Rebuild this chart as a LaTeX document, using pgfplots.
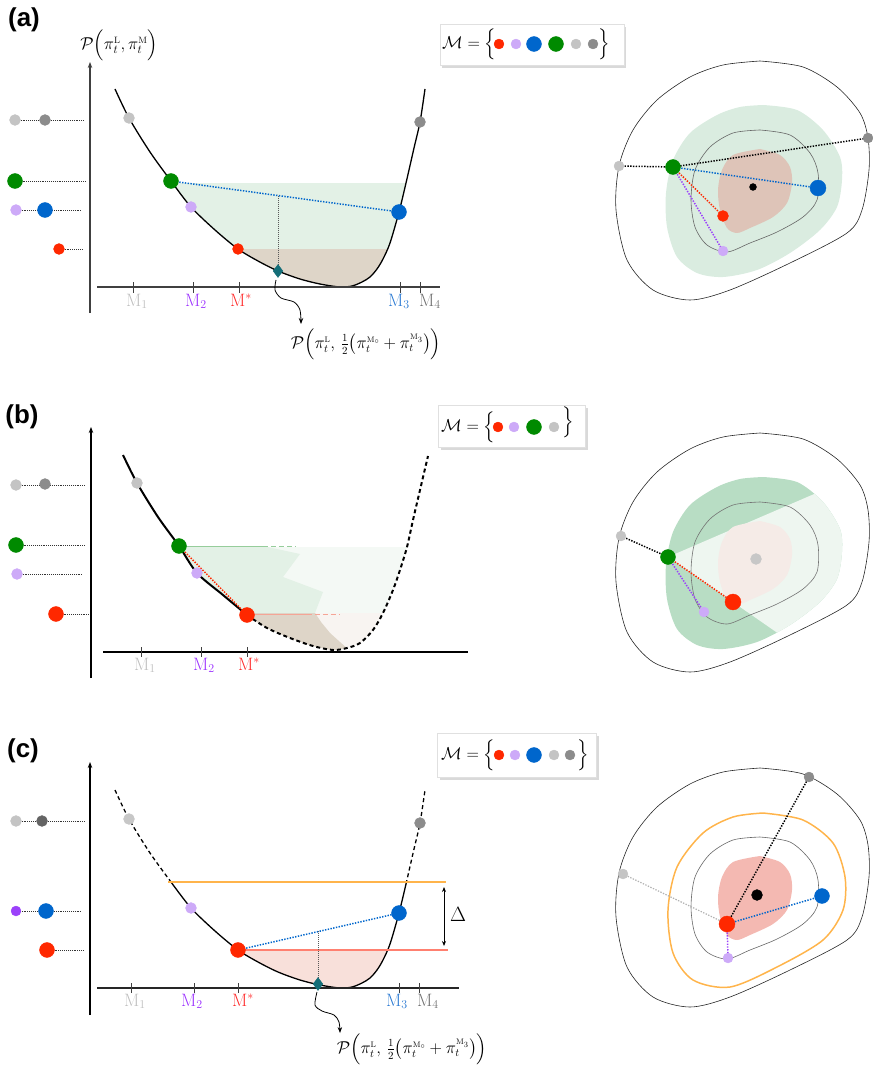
\documentclass[border=0pt]{standalone}
\usepackage{fontspec}
\usepackage{exscale}
\newfontfamily\panelfont{Liberation Sans}
\usepackage{pgfplots}
\usepackage{pgfplotstable}
\pgfplotsset{compat=1.18}
\usetikzlibrary{arrows.meta,shadows}

% marker colours
\definecolor{cRed}{RGB}{255,40,0}
\definecolor{cLav}{RGB}{205,170,248}
\definecolor{cBlue}{RGB}{0,102,204}
\definecolor{cGreen}{RGB}{0,138,0}
\definecolor{cGreyL}{RGB}{196,196,196}
\definecolor{cGreyD}{RGB}{140,140,140}
\definecolor{cGreyDD}{RGB}{100,100,100}
\definecolor{cPurple}{RGB}{155,65,250}
\definecolor{cTeal}{RGB}{20,110,120}
% tick label colours
\definecolor{tM1}{RGB}{190,190,190}
\definecolor{tM2}{RGB}{155,48,255}
\definecolor{tMs}{RGB}{255,40,40}
\definecolor{tM3}{RGB}{40,120,210}
\definecolor{tM4}{RGB}{110,110,110}
% area colours
\definecolor{fGreen}{RGB}{227,241,230}
\definecolor{fBrown}{RGB}{222,213,200}
\definecolor{fGreenLt}{RGB}{244,249,245}
\definecolor{fBrownLt}{RGB}{248,244,241}
\definecolor{fPink}{RGB}{248,224,218}
\definecolor{fLineG}{RGB}{150,205,155}
\definecolor{fLineR}{RGB}{245,165,150}
\definecolor{rGreen}{RGB}{218,236,224}
\definecolor{rBrown}{RGB}{222,196,184}
\definecolor{rGreenMid}{RGB}{184,221,196}
\definecolor{rWedge}{RGB}{238,246,240}
\definecolor{rPinkLt}{RGB}{245,235,231}
\definecolor{rPink}{RGB}{244,185,178}
\definecolor{cOrange}{RGB}{255,180,75}
\definecolor{cSalmon}{RGB}{255,128,112}

\pgfplotsset{
  mdot/.style 2 args={only marks, mark=*, mark size=#2, mark options={draw=#1, fill=#1}},
  mguide/.style={draw=black!80, line width=0.6pt, dash pattern=on 1pt off 0.9pt},
  mlink/.style={draw=#1, line width=1.5pt, dash pattern=on 1.4pt off 1.4pt},
  cline/.style={draw=#1, line width=0.6pt, smooth},
  mtick/.style={draw=black!75, line width=1pt},
  maxis/.style={draw=black!75, line width=1.2pt},
  myaxis/.style={draw=black!75, line width=1.2pt, -{Stealth[length=6bp,width=4.5bp]}},
  marrow/.style={draw=black, line width=0.8pt, smooth, -{Stealth[length=6bp,width=4.5bp]}},
}

% loss curve of panel (a)
\pgfplotstableread{
x y
115 89
129 118
150 152
171 181
191 207
215 230
238 249
258 261
278 271
300 279
320 284
340 287
352 286
362 282
370 277
377 269
383 259
390 243
399 212
406 183
414 148
420 122
425 89
}\curveA

% level sets in parameter space (panel (a) position)
\pgfplotstableread{
x y
760 61
803 67
837 87
860 113
868 138
869 170
862 210
847 233
790 263
730 290
690 300
653 290
627 260
616 210
619 166
633 130
657 100
690 77
723 65
760 61
}\outerR

\pgfplotstableread{
x y
760 130
790 135
810 153
818 173
817 200
803 217
777 232
750 243
727 252
707 245
695 227
691 200
695 170
710 147
733 133
760 130
}\innerR

\pgfplotstableread{
x y
763 105
797 110
823 130
840 157
842 180
837 207
820 230
790 253
757 270
723 277
697 273
677 257
667 227
666 193
673 160
690 133
717 115
740 107
763 105
}\greenR

\pgfplotstableread{
x y
760 149
780 155
790 167
792 183
787 203
773 217
750 228
737 233
727 228
720 210
718 190
722 170
733 155
760 149
}\blobR

\newcommand\lab{\fontsize{18}{21}\selectfont}
\newcommand\ylab{\fontsize{18.5}{22}\selectfont}
\newcommand\setlab{\fontsize{17.5}{21}\selectfont}
\newcommand\smalllab{\fontsize{16}{19}\selectfont}

\begin{document}
\begin{tikzpicture}
\begin{axis}[scale only axis, width=873bp, height=1067bp,
  xmin=0, xmax=873, ymin=0, ymax=1067, y dir=reverse,
  hide axis, clip=false]

%% ================= panel (a), loss curve =================
\begin{scope}
  \clip plot[smooth] coordinates {(115,89) (129,118) (150,152) (171,181) (191,207) (215,230) (238,249) (258,261) (278,271) (300,279) (320,284) (340,287) (352,286) (362,282) (370,277) (377,269) (383,259) (390,243) (399,212) (406,183) (414,148) (420,122) (425,89)} -- cycle;
  \addplot[fill=fGreen, draw=none] coordinates {(100,183) (440,183) (440,249) (100,249)};
  \addplot[fill=fBrown, draw=none] coordinates {(100,249) (440,249) (440,300) (100,300)};
\end{scope}
\addplot[black, line width=1.3pt, smooth] table[x=x, y=y] {\curveA};
\addplot[mlink=cBlue] coordinates {(171,181) (399,212)};
\addplot[draw=black!65, line width=0.8pt, dash pattern=on 1pt off 1pt] coordinates {(278,196) (278,271)};
\addplot[maxis] coordinates {(97,287) (440,287)};
\addplot[myaxis] coordinates {(90,313) (90,62)};
\pgfplotsinvokeforeach{133,193,239,400,420}{\addplot[mtick] coordinates {(#1,282) (#1,293)};}
\node[anchor=base, text=tM1, font=\lab] at (137,306) {$\mathrm{M}_1$};
\node[anchor=base, text=tM2, font=\lab] at (196,306) {$\mathrm{M}_2$};
\node[anchor=base, text=tMs, font=\lab] at (241,306) {$\mathrm{M}^*$};
\node[anchor=base, text=tM3, font=\lab] at (399,306) {$\mathrm{M}_3$};
\node[anchor=base, text=tM4, font=\lab] at (430,306) {$\mathrm{M}_4$};
\node[font=\ylab] at (119,45) {$\mathcal{P}\Big(\pi_t^{\scriptscriptstyle\mathrm{L}},\pi_t^{\scriptscriptstyle\mathrm{M}}\Big)$};
\node[font=\panelfont\bfseries\fontsize{26}{30}\selectfont] at (24,20) {(a)};
% projected levels
\addplot[mguide] coordinates {(15,120) (85,120)};
\addplot[mguide] coordinates {(15,181) (86,181)};
\addplot[mguide] coordinates {(16,210) (82,210)};
\addplot[mguide] coordinates {(59,249) (83,249)};
\addplot[mdot={cGreyL}{5.5}] coordinates {(15,120) (129,118)};
\addplot[mdot={cGreyD}{5.5}] coordinates {(45,120) (420,122)};
\addplot[mdot={cGreen}{7.5}] coordinates {(15,181) (171,181)};
\addplot[mdot={cLav}{5.5}] coordinates {(16,210) (191,207)};
\addplot[mdot={cBlue}{7.5}] coordinates {(45,210) (399,212)};
\addplot[mdot={cRed}{5.5}] coordinates {(59,249) (238,249)};
\addplot[only marks, mark=diamond*, mark size=6.5, mark options={draw=cTeal, fill=cTeal}] coordinates {(278,271)};
\addplot[marrow] coordinates {(276,280) (275,290) (281,298) (294,302) (300,310) (301,324)};
\node[font=\smalllab] at (366,344) {$\mathcal{P}\Big(\pi_t^{\scriptscriptstyle\mathrm{L}},\,{\textstyle\frac{1}{2}}\big(\pi_t^{\scriptscriptstyle\mathrm{M}_\circ}+\pi_t^{\scriptscriptstyle\mathrm{M}_3}\big)\Big)$};

% set of models (a)
\node[draw=black!12, fill=white, drop shadow={opacity=0.3, shadow xshift=2bp, shadow yshift=-2.5bp}, minimum width=184bp, minimum height=41bp, inner sep=0pt] at (532,45) {};
\node[anchor=west, font=\setlab, inner sep=0pt] at (442,44) {$\mathcal{M}=\Big\{$};
\node[font=\setlab, inner sep=0pt] at (604,44) {$\Big\}$};
\addplot[mdot={cRed}{5}] coordinates {(499,44)};
\addplot[mdot={cLav}{5}] coordinates {(516,44)};
\addplot[mdot={cBlue}{7.5}] coordinates {(534,44)};
\addplot[mdot={cGreen}{7.5}] coordinates {(556,44)};
\addplot[mdot={cGreyL}{5}] coordinates {(576,44)};
\addplot[mdot={cGreyD}{5}] coordinates {(593,44)};

%% ================= panel (a), parameter space =================
\addplot[fill=rGreen, draw=none, smooth] table[x=x, y=y] {\greenR};
\addplot[fill=rBrown, draw=none, smooth] table[x=x, y=y] {\blobR};
\addplot[cline=black!85] table[x=x, y=y] {\outerR};
\addplot[cline=black!60] table[x=x, y=y] {\innerR};
\addplot[mlink=black] coordinates {(619,166) (673,167) (868,138)};
\addplot[mlink=cBlue] coordinates {(673,167) (818,188)};
\addplot[mlink=cRed] coordinates {(673,167) (723,216)};
\addplot[mlink=cPurple] coordinates {(673,167) (723,251)};
\addplot[mdot={black}{3.5}] coordinates {(753,187)};
\addplot[mdot={cGreyL}{5}] coordinates {(619,166)};
\addplot[mdot={cGreyD}{5}] coordinates {(868,138)};
\addplot[mdot={cGreen}{7.5}] coordinates {(673,167)};
\addplot[mdot={cBlue}{8}] coordinates {(818,188)};
\addplot[mdot={cRed}{5.5}] coordinates {(723,216)};
\addplot[mdot={cLav}{5}] coordinates {(723,251)};

%% ================= panel (b), loss curve =================
\begin{scope}
  \clip plot[smooth] coordinates {(123,455) (137,483) (158,517) (179,546) (197,573) (223,595) (247,615) (267,628) (290,638) (313,646) (333,650) (347,648) (360,643) (373,630) (383,613) (393,590) (400,570) (407,547) (413,520) (420,490) (428,456)} -- cycle;
  \addplot[fill=fGreenLt, draw=none] coordinates {(100,547) (440,547) (440,613) (100,613)};
  \addplot[fill=fBrownLt, draw=none] coordinates {(100,613) (440,613) (440,670) (100,670)};
  \addplot[fill=fGreen, draw=none] coordinates {(100,546) (263,546) (300,554) (283,577) (323,592) (315,613) (100,613)};
  \addplot[fill=fBrown, draw=none] coordinates {(100,613) (315,613) (321,622) (330,633) (340,642) (349,650) (349,670) (100,670)};
\end{scope}
\addplot[draw=fLineG, line width=1pt] coordinates {(179,546) (263,546)};
\addplot[draw=fLineG, line width=1pt, dash pattern=on 5pt off 3pt] coordinates {(263,546) (296,546)};
\addplot[draw=fLineR, line width=1pt] coordinates {(247,614) (307,614)};
\addplot[draw=fLineR, line width=1pt, dash pattern=on 5pt off 3pt] coordinates {(307,614) (340,614)};
\addplot[black, line width=2pt, smooth] coordinates {(123,455) (137,483) (158,517) (179,546) (197,573) (223,595) (247,615)};
\addplot[black, line width=2pt, smooth, dash pattern=on 4pt off 3pt] coordinates {(247,615) (267,628) (290,638) (313,646) (333,650) (347,648) (360,643) (373,630) (383,613) (393,590) (400,570) (407,547) (413,520) (420,490) (428,456)};
\addplot[mlink=cRed] coordinates {(179,546) (247,615)};
\addplot[maxis, draw=black] coordinates {(103,652) (468,652)};
\addplot[myaxis, draw=black] coordinates {(91,678) (91,427)};
\pgfplotsinvokeforeach{141,201,247}{\addplot[mtick] coordinates {(#1,647) (#1,657)};}
\node[anchor=base, text=tM1, font=\lab] at (145,670) {$\mathrm{M}_1$};
\node[anchor=base, text=tM2, font=\lab] at (204,670) {$\mathrm{M}_2$};
\node[anchor=base, text=tMs, font=\lab] at (249,670) {$\mathrm{M}^*$};
\node[font=\panelfont\bfseries\fontsize{26}{30}\selectfont] at (22,417) {(b)};
\addplot[mguide] coordinates {(16,485) (85,485)};
\addplot[mguide] coordinates {(16,545) (86,545)};
\addplot[mguide] coordinates {(17,574) (83,574)};
\addplot[mguide] coordinates {(56,614) (90,614)};
\addplot[mdot={cGreyL}{5.5}] coordinates {(16,485) (137,483)};
\addplot[mdot={cGreyD}{5.5}] coordinates {(45,484)};
\addplot[mdot={cGreen}{7.5}] coordinates {(16,545) (179,546)};
\addplot[mdot={cLav}{5.5}] coordinates {(17,574) (197,573)};
\addplot[mdot={cRed}{7.5}] coordinates {(56,614) (247,615)};

% set of models (b)
\node[draw=black!12, fill=white, drop shadow={opacity=0.3, shadow xshift=2bp, shadow yshift=-2.5bp}, minimum width=147bp, minimum height=42bp, inner sep=0pt] at (512,426) {};
\node[anchor=west, font=\setlab, inner sep=0pt] at (441,427) {$\mathcal{M}=\Big\{$};
\node[font=\setlab, inner sep=0pt] at (568,422) {$\Big\}$};
\addplot[mdot={cRed}{5}] coordinates {(498,427)};
\addplot[mdot={cLav}{5}] coordinates {(514,427)};
\addplot[mdot={cGreen}{7.5}] coordinates {(534,427)};
\addplot[mdot={cGreyL}{5}] coordinates {(554,427)};

%% ================= panel (b), parameter space =================
\addplot[fill=rGreenMid, draw=none, smooth] table[x=x, y expr=\thisrow{y}+372] {\greenR};
\begin{scope}
  \clip plot[smooth] coordinates {(763,477) (797,482) (823,502) (840,529) (842,552) (837,579) (820,602) (790,625) (757,642) (723,649) (697,645) (677,629) (667,599) (666,565) (673,532) (690,505) (717,487) (740,479) (763,477)};
  \addplot[fill=rWedge, draw=none] coordinates {(668,557) (900,457) (900,720) (890,711)};
\end{scope}
\addplot[fill=rPinkLt, draw=none, smooth] table[x=x, y expr=\thisrow{y}+372] {\blobR};
\addplot[cline=black!85] table[x=x, y expr=\thisrow{y}+372] {\outerR};
\addplot[cline=black!55] table[x=x, y expr=\thisrow{y}+372] {\innerR};
\addplot[mlink=black] coordinates {(621,536) (668,557)};
\addplot[mlink=cRed] coordinates {(668,557) (733,602)};
\addplot[mlink=cPurple] coordinates {(668,557) (704,612)};
\addplot[mdot={black!22}{5.5}] coordinates {(756,559)};
\addplot[mdot={cGreyL}{5}] coordinates {(621,536)};
\addplot[mdot={cGreen}{7.5}] coordinates {(668,557)};
\addplot[mdot={cLav}{5}] coordinates {(704,612)};
\addplot[mdot={cRed}{8}] coordinates {(733,602)};

%% ================= panel (c), loss curve =================
\begin{scope}
  \clip plot[smooth] coordinates {(115,790) (129,819) (150,853) (171,882) (191,908) (215,931) (238,950) (258,962) (278,972) (300,980) (320,985) (340,988) (352,987) (362,983) (370,978) (377,970) (383,960) (390,944) (399,913) (406,884) (414,849) (420,823) (425,790)} -- cycle;
  \addplot[fill=fPink, draw=none] coordinates {(100,950) (440,950) (440,1000) (100,1000)};
\end{scope}
\addplot[black, line width=1.3pt, smooth, dash pattern=on 4pt off 3pt] coordinates {(115,790) (129,819) (150,853) (171,882)};
\addplot[black, line width=1.3pt, smooth] coordinates {(171,882) (191,908) (215,931) (238,950) (258,962) (278,972) (300,980) (320,985) (340,988) (352,987) (362,983) (370,978) (377,970) (383,960) (390,944) (399,913) (406,884)};
\addplot[black, line width=1.3pt, smooth, dash pattern=on 4pt off 3pt] coordinates {(406,884) (414,849) (420,823) (425,790)};
\addplot[draw=cOrange, line width=1.5pt] coordinates {(168,882) (446,882)};
\addplot[draw=cSalmon, line width=1.5pt] coordinates {(240,950) (448,950)};
\addplot[draw=black, line width=0.8pt, {Stealth[length=5bp,width=4bp]}-{Stealth[length=5bp,width=4bp]}] coordinates {(444,887) (444,946)};
\node[font=\fontsize{22}{24}\selectfont] at (458,914) {$\Delta$};
\addplot[mlink=cBlue] coordinates {(238,950) (399,913)};
\addplot[draw=black!65, line width=0.8pt, dash pattern=on 1pt off 1pt] coordinates {(318,931) (318,984)};
\addplot[maxis, draw=black!85] coordinates {(97,988) (459,988)};
\addplot[myaxis, draw=black] coordinates {(90,1015) (90,762)};
\pgfplotsinvokeforeach{131,194,238,399,419}{\addplot[mtick] coordinates {(#1,983) (#1,993)};}
\node[anchor=base, text=tM1, font=\lab] at (135,1006) {$\mathrm{M}_1$};
\node[anchor=base, text=tM2, font=\lab] at (192,1006) {$\mathrm{M}_2$};
\node[anchor=base, text=tMs, font=\lab] at (243,1006) {$\mathrm{M}^*$};
\node[anchor=base, text=tM3, font=\lab] at (397,1006) {$\mathrm{M}_3$};
\node[anchor=base, text=tM4, font=\lab] at (428,1006) {$\mathrm{M}_4$};
\node[font=\panelfont\bfseries\fontsize{26}{30}\selectfont] at (23,751) {(c)};
\addplot[mguide] coordinates {(16,821) (85,821)};
\addplot[mguide] coordinates {(16,911) (82,911)};
\addplot[mguide] coordinates {(47,950) (83,950)};
\addplot[mdot={cGreyL}{5.5}] coordinates {(16,821)};
\addplot[mdot={black!22}{5.5}] coordinates {(129,819)};
\addplot[mdot={cGreyDD}{5.5}] coordinates {(42,821)};
\addplot[mdot={cGreyD}{5.5}] coordinates {(420,823)};
\addplot[mdot={cPurple}{5}] coordinates {(16,911)};
\addplot[mdot={cLav}{5.5}] coordinates {(191,908)};
\addplot[mdot={cBlue}{7.5}] coordinates {(46,911) (399,913)};
\addplot[mdot={cRed}{7.5}] coordinates {(47,950) (238,950)};
\addplot[only marks, mark=diamond*, mark size=6.5, mark options={draw=cTeal, fill=cTeal}] coordinates {(318,984)};
\addplot[marrow] coordinates {(317,992) (315,1005) (322,1011) (334,1015) (339,1022) (340,1033)};
\node[font=\smalllab] at (412,1049) {$\mathcal{P}\Big(\pi_t^{\scriptscriptstyle\mathrm{L}},\,{\textstyle\frac{1}{2}}\big(\pi_t^{\scriptscriptstyle\mathrm{M}_\circ}+\pi_t^{\scriptscriptstyle\mathrm{M}_3}\big)\Big)$};

% set of models (c)
\node[draw=black!12, fill=white, drop shadow={opacity=0.3, shadow xshift=2bp, shadow yshift=-2.5bp}, minimum width=159bp, minimum height=44bp, inner sep=0pt] at (517,755) {};
\node[anchor=west, font=\setlab, inner sep=0pt] at (441,755) {$\mathcal{M}=\Big\{$};
\node[font=\setlab, inner sep=0pt] at (583,755) {$\Big\}$};
\addplot[mdot={cRed}{5}] coordinates {(499,755)};
\addplot[mdot={cLav}{5}] coordinates {(515,755)};
\addplot[mdot={cBlue}{7.5}] coordinates {(534,755)};
\addplot[mdot={cGreyL}{5}] coordinates {(554,755)};
\addplot[mdot={cGreyD}{5}] coordinates {(570,755)};

%% ================= panel (c), parameter space =================
\addplot[fill=rPink, draw=none, smooth] table[x=x, y expr=\thisrow{y}+707] {\blobR};
\addplot[cline=black!85] table[x=x, y expr=\thisrow{y}+707] {\outerR};
\addplot[cline=black!60] table[x=x, y expr=\thisrow{y}+707] {\innerR};
\addplot[draw=cOrange, line width=1.5pt, smooth] coordinates {(763,813) (803,820) (833,843) (845,877) (843,910) (823,940) (777,967) (730,987) (693,980) (673,953) (668,910) (677,867) (703,833) (733,817) (763,813)};
\addplot[draw=black!30, line width=1.2pt, dash pattern=on 1.4pt off 1.4pt] coordinates {(727,924) (623,874)};
\addplot[mlink=black] coordinates {(727,924) (809,777)};
\addplot[mlink=cBlue] coordinates {(727,924) (822,896)};
\addplot[mlink=cPurple] coordinates {(727,924) (728,958)};
\addplot[mdot={black}{5.5}] coordinates {(757,895)};
\addplot[mdot={cGreyL}{5}] coordinates {(623,874)};
\addplot[mdot={cGreyD}{5}] coordinates {(809,777)};
\addplot[mdot={cBlue}{7.5}] coordinates {(822,896)};
\addplot[mdot={cLav}{5}] coordinates {(728,958)};
\addplot[mdot={cRed}{8}] coordinates {(727,924)};
\end{axis}
\pgfresetboundingbox
\useasboundingbox (current axis.south west) rectangle (current axis.north east);
\end{tikzpicture}
\end{document}
